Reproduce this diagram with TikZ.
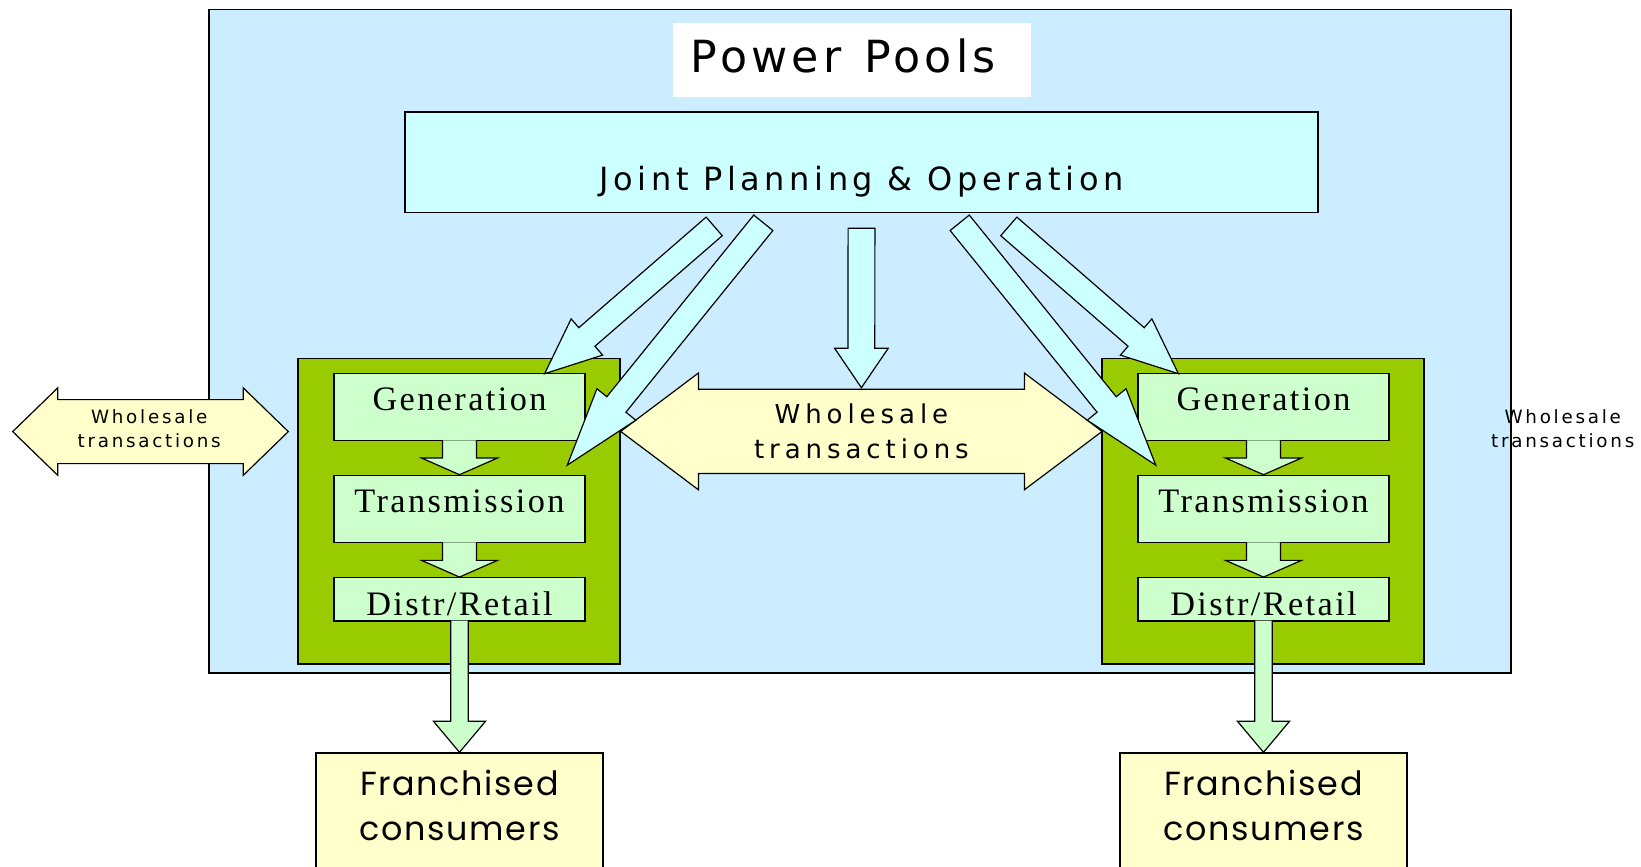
\documentclass[tikz,border=0pt]{standalone}
\usepackage{fontspec}
\setmainfont{Liberation Serif}
\newfontfamily\titlefont[LetterSpace=9.5]{DejaVu Sans}
\newfontfamily\jointfont[LetterSpace=14.3]{DejaVu Sans}
\newfontfamily\wsfont[LetterSpace=19]{DejaVu Sans}
\newfontfamily\wssmallfont[LetterSpace=15]{DejaVu Sans}
\newfontfamily\stagefont[LetterSpace=7]{Liberation Serif}
\newfontfamily\consfont[LetterSpace=5]{Poppins}
\usetikzlibrary{calc}

\definecolor{poolblue}{HTML}{CCECFF}
\definecolor{jointcyan}{HTML}{CCFFFF}
\definecolor{utilgreen}{HTML}{99CC00}
\definecolor{stagegreen}{HTML}{CCFFCC}
\definecolor{paleyellow}{HTML}{FFFFCC}

\tikzset{
  box/.style={draw, line width=1.2pt, inner sep=0pt},
  stagebox/.style={box, fill=stagegreen, minimum width=251pt,
    text height=37.4pt, text depth=30pt,
    font=\stagefont\fontsize{34.3pt}{40pt}\selectfont},
  distrbox/.style={stagebox, text depth=6pt},
  utilbox/.style={box, fill=utilgreen, minimum width=322pt, minimum height=305.7pt},
  consbox/.style={box, fill=paleyellow, minimum width=287pt, anchor=north,
    align=center, text height=87.7pt, text depth=62.3pt,
    font=\consfont\fontsize{33.4pt}{45pt}\selectfont},
  stagearrow/.style={draw, fill=stagegreen, line width=1.2pt},
  jointarrow/.style={draw, fill=jointcyan, line width=1.2pt},
  wsarrow/.style={draw, fill=paleyellow, line width=1.2pt},
  wsbig/.style={align=center, inner sep=0pt, font=\wsfont\fontsize{26pt}{34.3pt}\selectfont},
  wssmall/.style={align=center, inner sep=0pt, font=\wssmallfont\fontsize{18.3pt}{24pt}\selectfont}
}

% block arrow: [style]{from}{to}{shaft half}{head half}{head length}{end}
\newcommand{\blockarrow}[7][]{%
  \coordinate (ba-base) at ($(#3)!#6!(#2)$);
  \filldraw[#1] ($(#2)!#4!90:(#3)$) -- ($(ba-base)!#4!90:(#3)$)
    -- ($(ba-base)!#5!90:(#3)$) -- (#3) -- ($(ba-base)!#5!-90:(#3)$)
    -- ($(ba-base)!#4!-90:(#3)$) -- ($(#2)!#4!-90:(#3)$) #7;
}
% double arrow: [style]{centre}{half length}{head length}{shaft half}{head half}
\newcommand{\dblarrow}[6][]{%
  \filldraw[#1, shift={(#2)}] (-#3,0) -- ({-#3+#4},-#6) -- ({-#3+#4},-#5)
    -- ({#3-#4},-#5) -- ({#3-#4},-#6) -- (#3,0) -- ({#3-#4},#6)
    -- ({#3-#4},#5) -- ({-#3+#4},#5) -- ({-#3+#4},#6) -- cycle;
}

\begin{document}
\begin{tikzpicture}[x=1pt, y=-1pt, line join=miter]
  \useasboundingbox (0,0) rectangle (1641,867);

  % Pool frame and title
  \node[box, fill=poolblue, minimum width=1302pt, minimum height=663.6pt] (pool) at (860,341.2) {};
  \node[fill=white, inner xsep=17.4pt, inner ysep=0pt, text width=322.6pt, align=left,
    text height=49pt, text depth=24.4pt,
    font=\titlefont\fontsize{44.3pt}{50pt}\selectfont] (title) at (852,60) {Power\hspace{8pt} Pools};

  % Joint planning
  \node[box, fill=jointcyan, minimum width=913pt, text height=78pt, text depth=22.5pt,
    font=\jointfont\fontsize{32pt}{38pt}\selectfont] (joint) at (861.5,162.25) {Joint Planning \& Operation};

  % Utilities
  \node[utilbox] (util1) at (459,511.15) {};
  \node[utilbox] (util2) at (1263,511.15) {};

  % Stages, left
  \node[stagebox] (gen1) at (459.5,407) {Generation};
  \node[stagebox] (trans1) at (459.5,509) {Transmission};
  \node[distrbox] (distr1) at (459.5,599.35) {Distr/Retail};

  % Stages, right
  \node[stagebox] (gen2) at (1263.5,407) {Generation};
  \node[stagebox] (trans2) at (1263.5,509) {Transmission};
  \node[distrbox] (distr2) at (1263.5,599.35) {Distr/Retail};

  % Arrows between stages
  \coordinate (g1s) at ($(gen1.south)+(0,-1)$);
  \coordinate (t1s) at ($(trans1.south)+(0,-1)$);
  \coordinate (g2s) at ($(gen2.south)+(0,-1)$);
  \coordinate (t2s) at ($(trans2.south)+(0,-1)$);
  \blockarrow[stagearrow]{g1s}{trans1.north}{17pt}{38pt}{16.7pt}{}
  \blockarrow[stagearrow]{t1s}{distr1.north}{17pt}{38pt}{16.7pt}{}
  \blockarrow[stagearrow]{g2s}{trans2.north}{17pt}{38pt}{16.7pt}{}
  \blockarrow[stagearrow]{t2s}{distr2.north}{17pt}{38pt}{16.7pt}{}

  % Wholesale transactions, middle
  \coordinate (whc) at (861.4,431.4);
  \dblarrow[wsarrow]{whc}{240.7}{77.7}{42.15}{58.35}
  \node[wsbig] (wsmid) at (whc) {Wholesale\\transactions};

  % Joint planning arrows
  \coordinate (jm) at ($(joint.south)+(0,15.2)$);
  \coordinate (jm-tip) at ($(whc)+(0,-43.7)$);
  \blockarrow[jointarrow]{jm}{jm-tip}{13.4pt}{26.8pt}{39.4pt}{-- cycle}
  \coordinate (ja) at ($(joint.south)+(-147.3,13.3)$);
  \coordinate (jb) at ($(joint.south)+(-98.2,9.7)$);
  \coordinate (jc) at ($(joint.south)+(98.2,9.7)$);
  \coordinate (jd) at ($(joint.south)+(147.3,13.3)$);
  \coordinate (ja-tip) at ($(gen1.north east)+(-41,1)$);
  \coordinate (jb-tip) at ($(trans1.north east)+(-18.3,-9.6)$);
  \coordinate (jc-tip) at ($(trans2.north west)+(18.3,-9.6)$);
  \coordinate (jd-tip) at ($(gen2.north west)+(41,1)$);
  \blockarrow[jointarrow]{ja}{ja-tip}{12.3pt}{24pt}{56pt}{-- cycle}
  \blockarrow[jointarrow]{jb}{jb-tip}{12.3pt}{25pt}{78pt}{-- cycle}
  \blockarrow[jointarrow]{jc}{jc-tip}{12.3pt}{25pt}{78pt}{-- cycle}
  \blockarrow[jointarrow]{jd}{jd-tip}{12.3pt}{24pt}{56pt}{-- cycle}

  % Franchised consumers
  \node[consbox] (cons1) at (459.5,752.3) {Franchised\\consumers};
  \node[consbox] (cons2) at (1263.5,752.3) {Franchised\\consumers};
  \coordinate (d1s) at ($(distr1.south)+(0,-1)$);
  \coordinate (d2s) at ($(distr2.south)+(0,-1)$);
  \blockarrow[stagearrow]{d1s}{cons1.north}{8.7pt}{26pt}{31pt}{}
  \blockarrow[stagearrow]{d2s}{cons2.north}{8.7pt}{26pt}{31pt}{}

  % Wholesale transactions, outside
  \coordinate (wlc) at (150.5,431.6);
  \dblarrow[wsarrow]{wlc}{137.8}{45}{32}{43.7}
  \node[wssmall] (wsleft) at (149.2,428.4) {Wholesale\\transactions};
  \node[wssmall] (wsright) at (1562.7,428.4) {Wholesale\\transactions};
\end{tikzpicture}
\end{document}
